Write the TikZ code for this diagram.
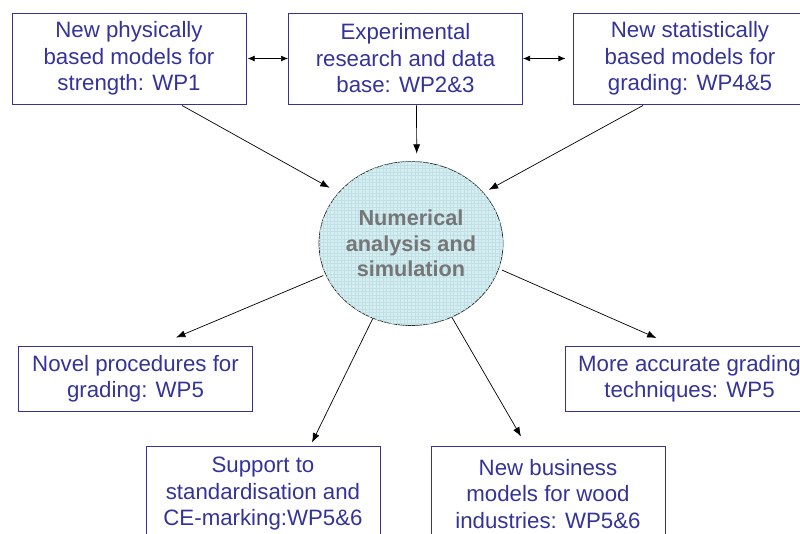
\documentclass[tikz,border=0pt]{standalone}
\usepackage{fontspec}
\setmainfont{Liberation Sans}
\usetikzlibrary{arrows.meta, calc, patterns, shapes.geometric}
\definecolor{wpblue}{RGB}{51,51,153}
\definecolor{simfill}{RGB}{212,238,241}
\definecolor{simgrid}{RGB}{192,224,229}
\definecolor{simtext}{RGB}{118,118,118}
\def\px{0.03cm}

\begin{document}
\begin{tikzpicture}[x=0.03cm, y=-0.03cm,
    wpbox/.style={draw=wpblue, line width=0.8pt, text=wpblue, align=center,
      inner sep=0pt, minimum width=234*\px, font=\fontsize{19}{22.6}\selectfont},
    simnode/.style={ellipse, draw=black!85, line width=0.6pt, fill=simfill,
      postaction={pattern=grid, pattern color=simgrid}, text=simtext, align=center,
      inner sep=0pt, minimum width=182*\px, minimum height=164*\px,
      font=\fontsize{18.5}{21.6}\selectfont\bfseries},
    arr/.style={black, line width=0.6pt, -{Latex[length=8pt,width=6pt]}},
    dblarr/.style={black, line width=0.6pt,
      {Latex[length=6pt,width=5pt]}-{Latex[length=6pt,width=5pt]}}]
  \useasboundingbox (0,0) rectangle (800,534);
  \clip (0,0) rectangle (800,534);
  % work packages feeding the analysis
  \node [wpbox, minimum height=91*\px] (wpone) at (129,58.5) {New physically\\based models for\\strength: WP1};
  \node [wpbox, minimum height=91*\px] (wptwo) at (405.5,58.5) {Experimental\\research and data\\base: WP2\&3};
  \node [wpbox, minimum height=91*\px] (wpthree) at (690,58.5) {New statistically\\based models for\\grading: WP4\&5};
  \node [simnode] (sim) at (411,243.5) {Numerical\\analysis and\\simulation};
  % results
  \node [wpbox, minimum height=65*\px] (novel) at (135.5,378.5) {Novel procedures for\\grading: WP5};
  \node [wpbox, minimum width=248*\px, minimum height=65*\px] (accurate) at (689.5,378.5) {More accurate grading\\techniques: WP5};
  \node [wpbox, minimum height=96*\px] (support) at (263,494) {Support to\\standardisation and\\CE-marking:WP5\&6};
  \node [wpbox, minimum height=96*\px] (business) at (548,494) {New business\\models for wood\\industries: WP5\&6};

  \draw [dblarr, shorten <=1pt] (wpone) -- (wptwo);
  \draw [dblarr, shorten >=6pt] (wptwo) -- (wpthree);
  \draw [arr, shorten >=8.5pt] ($(wpone.south)+(53,1)$) -- (sim.145.5);
  \draw [arr, shorten >=6.5pt] ($(wptwo.south)+(11,1)$) -- (sim.86);
  \draw [arr, shorten >=5pt] ($(wpthree.south)+(-47,1)$) -- (sim.35.2);
  \draw [arr, shorten <=2pt] (sim.200.5) -- ($(novel.north)+(40.5,-8)$);
  \draw [arr] (sim.243) -- ($(support.north)+(49,-3)$);
  \draw [arr] (sim.299) -- ($(business.north)+(-27,-9)$);
  \draw [arr, shorten <=3pt] (sim.344.3) -- ($(accurate.north)+(-33,-7.5)$);
\end{tikzpicture}
\end{document}
